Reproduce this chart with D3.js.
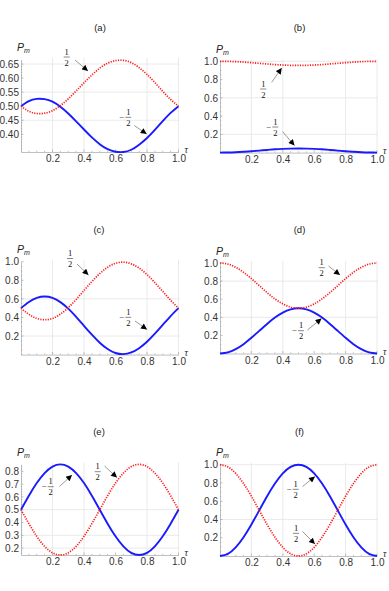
<!DOCTYPE html>
<html><head><meta charset="utf-8">
<script src="https://cdnjs.cloudflare.com/ajax/libs/d3/7.8.5/d3.min.js"></script>
<style>body{margin:0;background:#fff}svg{display:block}</style>
</head><body>
<svg id="chart" width="389" height="591"></svg>
<script>
// ---------- data ----------
const tau = [0,0.05,0.1,0.15,0.2,0.25,0.3,0.35,0.4,0.45,0.5,0.55,0.6,0.65,0.7,0.75,0.8,0.85,0.9,0.95,1.0];
const titles = ["(a)","(b)","(c)","(d)","(e)","(f)"];
const xTicks = [0.2,0.4,0.6,0.8,1.0];

const redA  = [0.500,0.482,0.474,0.475,0.484,0.502,0.526,0.554,0.583,0.611,0.635,0.653,0.662,0.663,0.655,0.637,0.613,0.584,0.553,0.524,0.500];
const blueA = [0.500,0.518,0.526,0.525,0.516,0.498,0.474,0.446,0.417,0.389,0.365,0.347,0.338,0.337,0.345,0.363,0.387,0.416,0.447,0.476,0.500];
const redB  = [1.000,0.999,0.996,0.991,0.985,0.978,0.971,0.964,0.959,0.956,0.955,0.956,0.959,0.964,0.971,0.978,0.985,0.991,0.996,0.999,1.000];
const blueB = [0.000,0.001,0.004,0.009,0.015,0.022,0.029,0.036,0.041,0.044,0.045,0.044,0.041,0.036,0.029,0.022,0.015,0.009,0.004,0.001,0.000];
const redC  = [0.500,0.433,0.390,0.375,0.390,0.435,0.505,0.593,0.690,0.786,0.872,0.940,0.983,0.995,0.977,0.931,0.862,0.775,0.680,0.585,0.500];
const blueC = [0.500,0.567,0.610,0.625,0.610,0.565,0.495,0.407,0.310,0.214,0.128,0.060,0.017,0.005,0.023,0.069,0.138,0.225,0.320,0.415,0.500];
const redD  = [1.000,0.988,0.952,0.897,0.827,0.750,0.673,0.603,0.548,0.512,0.500,0.512,0.548,0.603,0.673,0.750,0.827,0.897,0.952,0.988,1.000];
const blueD = [0.000,0.012,0.048,0.103,0.173,0.250,0.327,0.397,0.452,0.488,0.500,0.488,0.452,0.397,0.327,0.250,0.173,0.103,0.048,0.012,0.000];
const redE  = [0.500,0.391,0.292,0.214,0.163,0.146,0.163,0.214,0.292,0.391,0.500,0.609,0.708,0.786,0.837,0.854,0.837,0.786,0.708,0.609,0.500];
const blueE = [0.500,0.609,0.708,0.786,0.837,0.854,0.837,0.786,0.708,0.609,0.500,0.391,0.292,0.214,0.163,0.146,0.163,0.214,0.292,0.391,0.500];
const redF  = [1.000,0.976,0.905,0.794,0.655,0.500,0.345,0.206,0.095,0.024,0.000,0.024,0.095,0.206,0.345,0.500,0.655,0.794,0.905,0.976,1.000];
const blueF = [0.000,0.024,0.095,0.206,0.345,0.500,0.655,0.794,0.905,0.976,1.000,0.976,0.905,0.794,0.655,0.500,0.345,0.206,0.095,0.024,0.000];

const yTicksA = [0.40,0.45,0.50,0.55,0.60,0.65];
const yTicksB = [0.2,0.4,0.6,0.8,1.0];
const yTicksE = [0.2,0.3,0.4,0.5,0.6,0.7,0.8];
const yGridA = [0.45,0.55,0.65], yGridB = [0.2,0.6,1.0], yGridC = [0.2,0.6], yGridD = [0.4,0.8], yGridE = [0.2,0.3,0.5], yGridF = [0.4,1.0];
const xGrid = [0.2,0.4,0.8,1.0];

// ---------- layout ----------
const panels = [
  {red:redA, blue:blueA, yt:yTicksA, fmt:".2f", dom:[0.337,0.665], x:[21,178.5], y:[152,59.8], title:[100,27], grid:yGridA, minorStep:0.01,
   ann:[{t:"1/2", bx:66.7, by:57, a:[75,60,88,71]},{t:"-1/2", bx:128.3, by:117.3, a:[134.3,125.5,146.7,134]}]},
  {red:redB, blue:blueB, yt:yTicksB, fmt:".1f", dom:[0,1], x:[220,377], y:[152.6,61.3], title:[299.5,27], grid:yGridB, minorStep:0.05,
   ann:[{t:"1/2", bx:263.3, by:89, a:[271.7,82.3,281.7,68]},{t:"-1/2", bx:275.3, by:127, a:[282.5,131.5,294.5,145.5]}]},
  {red:redC, blue:blueC, yt:yTicksB, fmt:".1f", dom:[0,1], x:[21,178.5], y:[354.6,261.7], title:[99,229], grid:yGridC, minorStep:0.05,
   ann:[{t:"1/2", bx:70, by:258.5, a:[77,264,88.5,275]},{t:"-1/2", bx:128.3, by:317.3, a:[135,321,147,329.5]}]},
  {red:redD, blue:blueD, yt:yTicksB, fmt:".1f", dom:[0,1], x:[220,377], y:[353.5,263], title:[299.5,229], grid:yGridD, minorStep:0.05,
   ann:[{t:"1/2", bx:321.7, by:267.7, a:[328.5,266,340,275]},{t:"-1/2", bx:301, by:330.7, a:[307.5,330,321.5,318.5]}]},
  {red:redE, blue:blueE, yt:yTicksE, fmt:".1f", dom:[0.146,0.854], x:[21,178.5], y:[555,464.4], title:[99,431.5], grid:yGridE, minorStep:0.02,
   ann:[{t:"1/2", bx:97.7, by:471.7, a:[104.5,466,117,477.5]},{t:"-1/2", bx:50.7, by:486.7, a:[59.5,486.5,72,475]}]},
  {red:redF, blue:blueF, yt:yTicksB, fmt:".1f", dom:[0,1], x:[220,377], y:[556,464.7], title:[299.5,431], grid:yGridF, minorStep:0.05,
   ann:[{t:"-1/2", bx:295.7, by:489.3, a:[302.5,486.5,315,476.5]},{t:"1/2", bx:296, by:533.3, a:[302.5,531.5,315,544]}]}
];

const svg = d3.select("#chart");
const defs = svg.append("defs");
defs.append("marker").attr("id","ah").attr("viewBox","0 0 10 10").attr("refX",10).attr("refY",5)
  .attr("markerWidth",7).attr("markerHeight",6).attr("markerUnits","userSpaceOnUse").attr("orient","auto")
  .append("path").attr("d","M0,0 L10,5 L0,10 z").attr("fill","#000");

const FONT = "'Liberation Sans', Arial, sans-serif";
const SERIF = "'Liberation Serif', 'Times New Roman', serif";

panels.forEach((p, i) => {
  const g = svg.append("g");
  const x = d3.scaleLinear().domain([0,1]).range(p.x);
  const y = d3.scaleLinear().domain(p.dom).range(p.y);

  // title
  g.append("text").attr("x", p.title[0]).attr("y", p.title[1]).attr("text-anchor","middle")
    .attr("dominant-baseline","central").attr("font-family",FONT).attr("font-size",9.5).attr("fill","#222").text(titles[i]);

  // grid
  g.selectAll(".hg").data(p.grid).enter().append("line")
    .attr("x1", p.x[0]).attr("x2", p.x[1]+1).attr("y1", d=>y(d)).attr("y2", d=>y(d))
    .attr("stroke","#e4e4e4").attr("stroke-width",0.8);
  g.selectAll(".vg").data(xGrid).enter().append("line")
    .attr("x1", d=>x(d)).attr("x2", d=>x(d)).attr("y1", p.y[0]).attr("y2", p.y[1]-2)
    .attr("stroke","#e4e4e4").attr("stroke-width",0.8);

  // axes
  const xAxis = d3.axisBottom(x).tickValues(xTicks).tickFormat(d3.format(".1f")).tickSize(0).tickPadding(3);
  const xa = g.append("g").attr("transform",`translate(0,${p.y[0]})`).call(xAxis);
  const yAxis = d3.axisLeft(y).tickValues(p.yt).tickFormat(d3.format(p.fmt)).tickSize(0).tickPadding(2);
  const ya = g.append("g").attr("transform",`translate(${p.x[0]},0)`).call(yAxis);
  [xa, ya].forEach(a => {
    a.select(".domain").attr("stroke","#b0b0b0").attr("stroke-width",0.8);
    a.selectAll("text").attr("font-family",FONT).attr("font-size",10).attr("fill","#333");
  });
  // minor / major ticks
  const xm = d3.range(0.05, 1.001, 0.05);
  g.selectAll(".xt").data(xm).enter().append("line")
    .attr("x1",d=>x(d)).attr("x2",d=>x(d)).attr("y1",p.y[0]).attr("y2",d=>p.y[0]-(Math.abs(d*5-Math.round(d*5))<1e-6?2.5:1.2))
    .attr("stroke","#999").attr("stroke-width",0.6);
  const ym = d3.range(Math.ceil(p.dom[0]/p.minorStep)*p.minorStep, p.dom[1]+1e-9, p.minorStep);
  g.selectAll(".yt").data(ym).enter().append("line")
    .attr("y1",d=>y(d)).attr("y2",d=>y(d)).attr("x1",p.x[0])
    .attr("x2",d=>p.x[0]+(p.yt.some(t=>Math.abs(t-d)<1e-6)?2.5:1.2))
    .attr("stroke","#999").attr("stroke-width",0.6);

  // axis labels
  const pm = g.append("text").attr("x", p.x[0]-4).attr("y", p.y[1]-8.5).attr("font-family",FONT)
    .attr("font-size",10.5).attr("font-style","italic").attr("fill","#222");
  pm.append("tspan").text("P");
  pm.append("tspan").attr("font-size",7).attr("dy",2).text("m");
  g.append("text").attr("x", p.x[1]+6).attr("y", p.y[0]+1).attr("font-family",SERIF)
    .attr("font-size",9.5).attr("font-style","italic").attr("fill","#222").text("τ");

  // curves
  const line = d3.line().x((d,j)=>x(tau[j])).y(d=>y(d)).curve(d3.curveNatural);
  g.append("path").attr("d", line(p.blue)).attr("fill","none").attr("stroke","#1a1aff").attr("stroke-width",1.9);
  g.append("path").attr("d", line(p.red)).attr("fill","none").attr("stroke","#ff1a1a").attr("stroke-width",1.7)
    .attr("stroke-dasharray","1.2,1.3");

  // annotations
  p.ann.forEach(a => {
    const neg = a.t.startsWith("-");
    const ag = g.append("g").attr("font-family",SERIF).attr("font-size",8.5).attr("fill","#111");
    ag.append("text").attr("x",a.bx).attr("y",a.by-2.5).attr("text-anchor","middle").text("1");
    ag.append("line").attr("x1",a.bx-3).attr("x2",a.bx+3).attr("y1",a.by).attr("y2",a.by).attr("stroke","#111").attr("stroke-width",0.5);
    ag.append("text").attr("x",a.bx).attr("y",a.by+8.5).attr("text-anchor","middle").text("2");
    if (neg) ag.append("text").attr("x",a.bx-4).attr("y",a.by+2.5).attr("text-anchor","end").text("−");
    g.append("line").attr("x1",a.a[0]).attr("y1",a.a[1]).attr("x2",a.a[2]).attr("y2",a.a[3])
      .attr("stroke","#555").attr("stroke-width",0.6).attr("marker-end","url(#ah)");
  });
});
</script>
</body></html>
